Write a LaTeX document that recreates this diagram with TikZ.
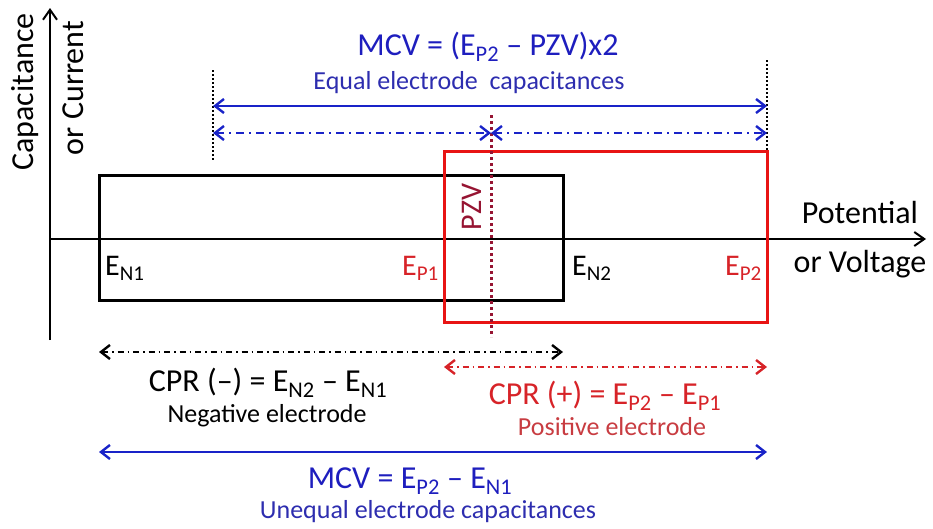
\documentclass[tikz,border=0pt]{standalone}
\usepackage{fontspec}
\setmainfont{Carlito}
\usetikzlibrary{arrows.meta}
\definecolor{mblue}{RGB}{30,30,190}
\definecolor{sblue}{RGB}{45,45,175}
\definecolor{ablue}{RGB}{25,35,200}
\definecolor{boxred}{RGB}{232,20,20}
\definecolor{tred}{RGB}{215,35,40}
\definecolor{pred}{RGB}{200,60,65}
\definecolor{pzvc}{RGB}{150,20,50}
\newcommand\sbs[1]{\textsubscript{#1}}
\begin{document}
\begin{tikzpicture}[x=1pt,y=-1pt,
  big/.style={inner sep=0pt, font=\fontsize{32}{36}\selectfont},
  sml/.style={inner sep=0pt, font=\fontsize{26}{30}\selectfont},
  elab/.style={inner sep=0pt, font=\fontsize{30}{34}\selectfont},
  axis/.style={line width=2pt, -{Straight Barb[length=10pt,width=14pt,line width=2pt]}},
  dim/.style={line width=2.2pt, {Straight Barb[length=9pt,width=14pt,line width=2.4pt]}-{Straight Barb[length=9pt,width=14pt,line width=2.4pt]}},
  dashdot/.style={dash pattern=on 8pt off 5pt on 2pt off 5pt},
  dashdotk/.style={dash pattern=on 6pt off 4pt on 1.5pt off 4pt},
  guide/.style={line width=2.2pt, dash pattern=on 2pt off 2pt}]
\useasboundingbox (0,0) rectangle (933,528);
% key coordinates
\coordinate (ybot) at (50,340);
\coordinate (ytop) at (50,8);
\coordinate (O) at (50,239);
\coordinate (xend) at (926,239);
% axes
\draw[axis] (ybot) -- (ytop);
\draw[axis] (O) -- (xend);
% electrode boxes
\draw[line width=3pt] (99,175) rectangle (563,300);
\draw[boxred, line width=3pt] (444,151) rectangle (767,322);
% guides
\coordinate (gl1) at (213,70);  \coordinate (gl2) at (213,160);
\coordinate (gr1) at (767,60);  \coordinate (gr2) at (767,151);
\coordinate (pz1) at (491,115); \coordinate (pz2) at (491,337);
\draw[guide] (gl1) -- (gl2);
\draw[guide] (gr1) -- (gr2);
\draw[pzvc, line width=3pt, dash pattern=on 3pt off 3pt] (pz1) -- (pz2);
% top dimension arrows
\coordinate (t1l) at (213,106); \coordinate (t1r) at (767,106);
\coordinate (t2l) at (213,133); \coordinate (t2m) at (491,133); \coordinate (t2r) at (767,133);
\draw[dim, ablue] (t1l) -- (t1r);
\draw[dim, ablue, dashdot] (t2l) -- (t2m);
\draw[dim, ablue, dashdot] (t2m) -- (t2r);
% bottom dimension arrows
\coordinate (bnl) at (99,352);  \coordinate (bnr) at (563,352);
\coordinate (bpl) at (444,367); \coordinate (bpr) at (767,367);
\coordinate (bml) at (99,452);  \coordinate (bmr) at (767,452);
\draw[dim, dashdotk] (bnl) -- (bnr);
\draw[dim, tred, dashdotk] (bpl) -- (bpr);
\draw[dim, ablue] (bml) -- (bmr);
% axis labels
\node[big, rotate=90] (cap) at (25,92) {Capacitance};
\node[big, rotate=90] (cur) at (73,88) {or Current};
\node[big] (pot) at (860,213) {Potential};
\node[big] (vol) at (860,264) {or Voltage};
% potential labels
\node[elab, anchor=west] (en1) at (105,268) {E\sbs{N1}};
\node[elab, anchor=east, tred] (ep1) at (439,268) {E\sbs{P1}};
\node[elab, anchor=west] (en2) at (572,268) {E\sbs{N2}};
\node[elab, anchor=east, tred] (ep2) at (762,268) {E\sbs{P2}};
\node[elab, rotate=90, pzvc] (pzv) at (472,207) {PZV};
% formulas
\node[big, mblue] (mcv1) at (488,47) {MCV = (E\sbs{P2} – PZV)x2};
\node[sml, sblue] (eq) at (469,83) {Equal electrode\ \ capacitances};
\node[big] (cprn) at (268,383) {CPR (–) = E\sbs{N2} – E\sbs{N1}};
\node[sml] (neg) at (267,416) {Negative electrode};
\node[big, tred] (cprp) at (605,396) {CPR (+) = E\sbs{P2} – E\sbs{P1}};
\node[sml, pred] (pos) at (612,427) {Positive electrode};
\node[big, mblue] (mcv2) at (410,481) {MCV = E\sbs{P2} – E\sbs{N1}};
\node[sml, sblue] (uneq) at (428,512) {Unequal electrode capacitances};
\end{tikzpicture}
\end{document}
